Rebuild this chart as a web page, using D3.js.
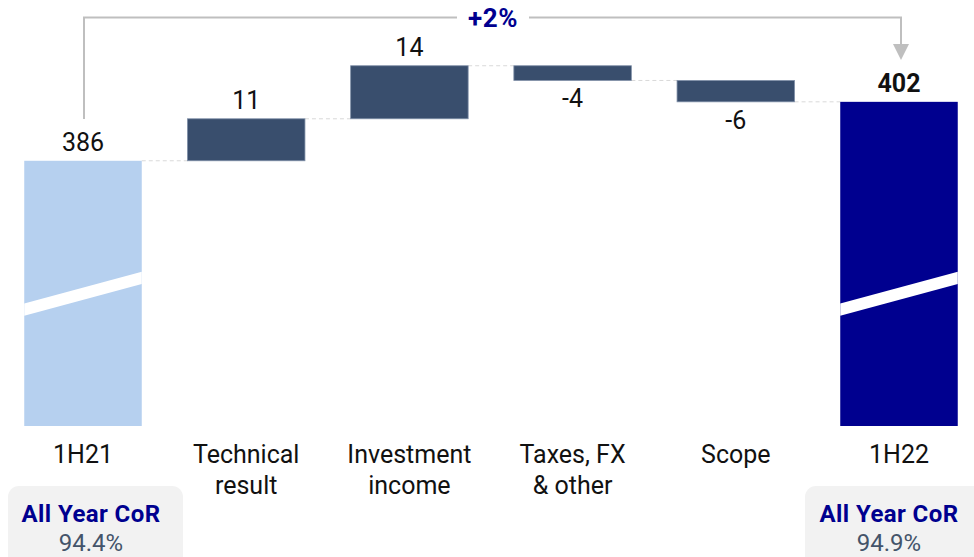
<!DOCTYPE html>
<html>
<head>
<meta charset="utf-8">
<script src="https://cdn.jsdelivr.net/npm/d3@7"></script>
<style>
  body { margin: 0; background: #fff; }
  svg { display: block; font-family: Roboto, "Noto Sans", sans-serif; }
</style>
</head>
<body>
<div id="chart"></div>
<script>
// data
var categories = ["1H21", "Technical result", "Investment income", "Taxes, FX & other", "Scope", "1H22"];
var categoryLines = [["1H21"], ["Technical", "result"], ["Investment", "income"], ["Taxes, FX", "& other"], ["Scope"], ["1H22"]];
var values = [386, 11.4, 14.4, -4.0, -5.8, 402];
var valueLabels = ["386", "11", "14", "-4", "-6", "402"];
var kinds = ["total", "delta", "delta", "delta", "delta", "total"];
var corLabels = ["All Year CoR", "All Year CoR"];
var corValues = ["94.4%", "94.9%"];
var growthLabel = "+2%";
var axisFloor = 314;   // the axis is broken, bars start here
var axisTop = 412;

var svgWidth = 974;
var svgHeight = 557;

var svg = d3.select("#chart")
  .append("svg")
  .attr("width", svgWidth)
  .attr("height", svgHeight);

var x = d3.scaleBand()
  .domain(categories)
  .range([1.4, 980.6])
  .paddingInner(0.28)
  .paddingOuter(0.14);

var y = d3.scaleLinear()
  .domain([axisFloor, axisTop])
  .range([426, 65]);

// build waterfall segments
var running = 0;
var bars = categories.map(function(c, i) {
  var d = { cat: c, i: i, kind: kinds[i], label: valueLabels[i] };
  if (kinds[i] === "total") {
    d.start = axisFloor;
    d.end = values[i];
    running = values[i];
  } else {
    d.start = running;
    d.end = running + values[i];
    running = d.end;
  }
  return d;
});

var colors = { first: "#b6d0ef", delta: "#394e6d", last: "#00008f" };
function barColor(d) {
  if (d.kind === "total") return d.i === 0 ? colors.first : colors.last;
  return colors.delta;
}

// dashed connectors
var conn = svg.append("g");
bars.slice(0, -1).forEach(function(d, i) {
  var yy = y(d.end);
  conn.append("line")
    .attr("x1", x(d.cat) + x.bandwidth())
    .attr("x2", x(bars[i + 1].cat))
    .attr("y1", yy)
    .attr("y2", yy)
    .attr("stroke", "#d9d9d9")
    .attr("stroke-width", 1)
    .attr("stroke-dasharray", "4,3");
});

// bars
svg.append("g").selectAll("rect")
  .data(bars)
  .enter()
  .append("rect")
  .attr("x", d => x(d.cat))
  .attr("width", x.bandwidth())
  .attr("y", d => y(Math.max(d.start, d.end)))
  .attr("height", d => Math.abs(y(d.start) - y(d.end)))
  .attr("fill", barColor)
  .attr("stroke", d => d.kind === "delta" ? "#8090a8" : "none")
  .attr("stroke-width", 0.8);

// axis break stripes on the totals
bars.filter(d => d.kind === "total").forEach(function(d) {
  var x0 = x(d.cat), x1 = x0 + x.bandwidth();
  var yl = y(345.6), yr = y(354.2), h = 6.2;
  svg.append("polygon")
    .attr("points", [[x0, yl - h], [x1, yr - h], [x1, yr + h], [x0, yl + h]].map(p => p.join(",")).join(" "))
    .attr("fill", "#fff");
});

// value labels
svg.append("g").selectAll("text")
  .data(bars)
  .enter()
  .append("text")
  .attr("x", d => x(d.cat) + x.bandwidth() / 2)
  .attr("y", function(d) {
    if (d.end >= d.start) return y(d.end) - 10;
    return y(d.end) + 27;
  })
  .attr("text-anchor", "middle")
  .attr("font-size", "25px")
  .attr("font-weight", d => d.i === 5 ? "bold" : "normal")
  .attr("fill", "#111")
  .text(d => d.label);

// category labels
var cat = svg.append("g");
categoryLines.forEach(function(lines, i) {
  var t = cat.append("text")
    .attr("text-anchor", "middle")
    .attr("font-size", "25px")
    .attr("fill", "#111");
  lines.forEach(function(l, j) {
    t.append("tspan")
      .attr("x", x(categories[i]) + x.bandwidth() / 2)
      .attr("y", 463 + j * 31)
      .text(l);
  });
});

// growth bracket
var xa = x(categories[0]) + x.bandwidth() / 2 + 1;
var xb = x(categories[5]) + x.bandwidth() / 2 + 2;
svg.append("path")
  .attr("d", `M${xa},119 V17.5 H${xb} V46`)
  .attr("fill", "none")
  .attr("stroke", "#bfbfbf")
  .attr("stroke-width", 2);
svg.append("path")
  .attr("d", `M${xb - 8},44 L${xb + 8},44 L${xb},60 Z`)
  .attr("fill", "#bfbfbf");
svg.append("rect")
  .attr("x", 457).attr("y", 6).attr("width", 72).attr("height", 24)
  .attr("fill", "#fff");
svg.append("text")
  .attr("x", 493)
  .attr("y", 26.5)
  .attr("text-anchor", "middle")
  .attr("font-size", "26px")
  .attr("font-weight", "bold")
  .attr("letter-spacing", "0.5px")
  .attr("fill", "#00008f")
  .text(growthLabel);

// CoR boxes
var boxes = [
  { x: 8, w: 175, cx: 91, label: corLabels[0], value: corValues[0] },
  { x: 805, w: 185, cx: 889, label: corLabels[1], value: corValues[1] }
];
boxes.forEach(function(b) {
  svg.append("rect")
    .attr("x", b.x).attr("y", 486)
    .attr("width", b.w).attr("height", 100)
    .attr("rx", 11)
    .attr("fill", "#f2f2f2");
  svg.append("text")
    .attr("x", b.cx).attr("y", 522)
    .attr("text-anchor", "middle")
    .attr("font-size", "24px")
    .attr("font-weight", "bold")
    .attr("letter-spacing", "0.4px")
    .attr("fill", "#00008f")
    .text(b.label);
  svg.append("text")
    .attr("x", b.cx).attr("y", 551)
    .attr("text-anchor", "middle")
    .attr("font-size", "24px")
    .attr("fill", "#44546a")
    .text(b.value);
});
</script>
</body>
</html>
